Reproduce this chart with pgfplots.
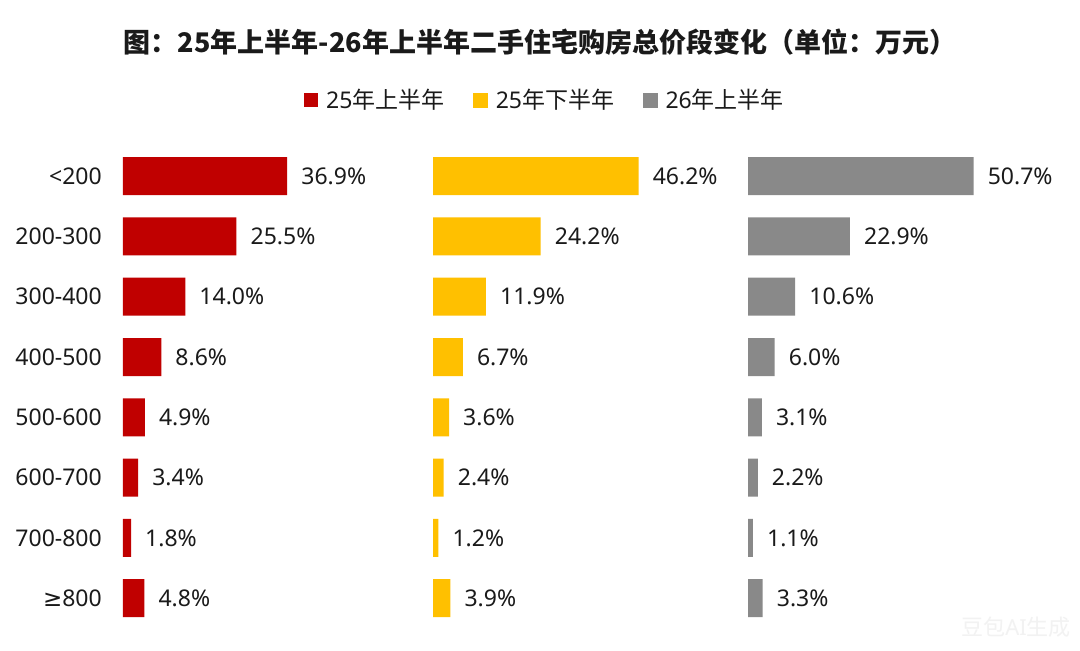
\documentclass[border=0pt]{standalone}
\usepackage{pgfplots}
\usepackage{pgfplotstable}
\pgfplotsset{compat=1.18}
\usepackage{fontspec}
\setmainfont{Noto Sans}
\newfontfamily\cjk{Noto Sans CJK SC}
\newfontfamily\dejavu{DejaVu Sans}
\definecolor{cRed}{HTML}{C00000}
\definecolor{cYel}{HTML}{FFC000}
\definecolor{cGry}{HTML}{898989}
\definecolor{cTxt}{HTML}{1A1A1A}

% y: 7 = <200 (top) ... 0 = >=800 (bottom)
\pgfplotstableread{
y a b c
7 36.9 46.2 50.7
6 25.5 24.2 22.9
5 14.0 11.9 10.6
4 8.6 6.7 6.0
3 4.9 3.6 3.1
2 3.4 2.4 2.2
1 1.8 1.2 1.1
0 4.8 3.9 3.3
}\data

\pgfplotsset{
  panel/.style={
    scale only axis, width=244.75pt, height=482.4pt,
    xmin=0, xmax=55, ymin=-0.5, ymax=7.5,
    axis lines=left, axis line style={draw=none,-},
    xtick=\empty, ytick={0,...,7}, major tick length=0pt,
    /pgf/number format/assume math mode=true,
    clip=false,
    yticklabel style={font=\fontsize{23}{26}\selectfont, text=cTxt, inner sep=0pt, xshift=-21pt},
    every node near coord/.append style={anchor=west, inner sep=0pt, xshift=14pt,
       font=\fontsize{23}{26}\selectfont, text=cTxt},
    nodes near coords={\pgfmathprintnumber[fixed,fixed zerofill,precision=1]{\pgfplotspointmeta}\%},
    point meta=x,
  },
  barplot/.style={xbar, bar width=38pt, bar shift=0pt, draw=none, fill=#1},
}

\begin{document}
\begin{tikzpicture}
\path[use as bounding box, fill=white] (0,0) rectangle (1080pt,651pt);

\node[font=\cjk\bfseries\fontsize{27}{30}\selectfont, text=cTxt] at (540pt,609pt)
  {图：25年上半年-26年上半年二手住宅购房总价段变化（单位：万元）};

\begin{axis}[panel, at={(123pt,22.6pt)}, anchor=south west,
  yticklabels={{{\dejavu ≥}800},700-800,600-700,500-600,400-500,300-400,200-300,{<200}},
  legend columns=3,
  legend style={at={(1.7201,1.0954)}, anchor=center, draw=none, fill=none,
    font=\fontsize{23}{26}\selectfont, text=cTxt,
    nodes={inner sep=0pt},
    /tikz/every odd column/.append style={column sep=8pt},
    /tikz/every even column/.append style={column sep=29pt}},
  ]
\addplot[barplot=cRed, legend image code/.code={\fill[cRed] (0pt,-7pt) rectangle (14pt,7pt);}]
  table[x=a, y=y] {\data};
\addlegendentry{25{\cjk 年上半年}}
\addlegendimage{legend image code/.code={\fill[cYel] (0pt,-7pt) rectangle (14pt,7pt);}}
\addlegendentry{25{\cjk 年下半年}}
\addlegendimage{legend image code/.code={\fill[cGry] (0pt,-7pt) rectangle (14pt,7pt);}}
\addlegendentry{26{\cjk 年上半年}}
\end{axis}

\begin{axis}[panel, at={(433pt,22.6pt)}, anchor=south west, yticklabels={}]
\addplot[barplot=cYel] table[x=b, y=y] {\data};
\end{axis}

\begin{axis}[panel, at={(748pt,22.6pt)}, anchor=south west, yticklabels={}]
\addplot[barplot=cGry] table[x=c, y=y] {\data};
\end{axis}

\node[font=\fontsize{22}{24}\selectfont, text=black!5] at (1016pt,24pt) {{\cjk 豆包}AI{\cjk 生成}};
\end{tikzpicture}
\end{document}
